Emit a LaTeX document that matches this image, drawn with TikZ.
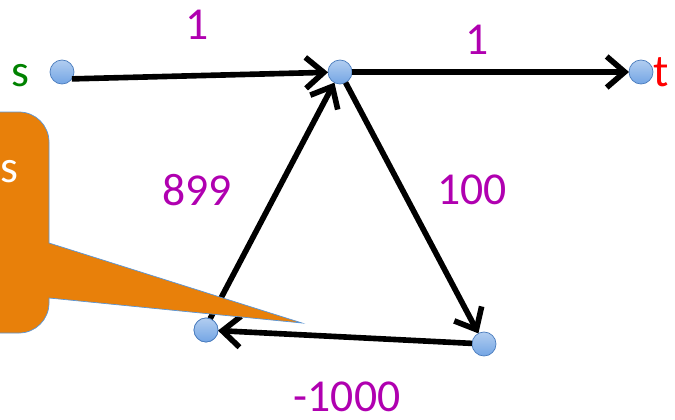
\documentclass[tikz,border=0pt]{standalone}
\usepackage{fontspec}
\setmainfont{Carlito}
\usetikzlibrary{positioning, arrows.meta}
\definecolor{WeightPurple}{RGB}{176,0,176}
\definecolor{SrcGreen}{RGB}{0,130,0}
\definecolor{DotBlue}{RGB}{115,165,228}
\definecolor{DotEdge}{RGB}{75,125,190}
\definecolor{NoteOrange}{RGB}{232,128,10}
\definecolor{NoteEdge}{RGB}{90,150,215}
\tikzset{
  vtx/.style={circle, draw=DotEdge, thin, top color=DotBlue!55!white, bottom color=DotBlue,
    minimum size=0.48cm, inner sep=0pt, outer sep=0pt},
  wlab/.style={font=\fontsize{26}{30}\selectfont, text=WeightPurple, inner sep=0pt},
  endlab/.style={font=\fontsize{26}{30}\selectfont, inner sep=0pt},
  wedge/.style={-{Straight Barb[length=3.6mm,width=6.2mm]}, line width=3.2pt, black},
}
\begin{document}
\begin{tikzpicture}
      \useasboundingbox (0,0) rectangle (13.5,-8.4);
      % vertices
      \node[vtx] (s) at (1.24,-1.44) {};
      \node[vtx] (m) at (6.80,-1.44) {};
      \node[vtx] (t) at (12.82,-1.44) {};
      \node[vtx] (r) at (9.68,-6.88) {};
      \node[vtx] (l) at (4.12,-6.60) {};
      % edges
      \draw[wedge] (s.-35) -- (m);
      \draw[wedge] (m) -- (t);
      \draw[wedge] (m) -- (r);
      \draw[wedge] (l.70) -- (m);
      \draw[wedge] (r) -- (l);
      % callout
      \draw[fill=NoteOrange, draw=NoteEdge, thin]
        (-0.4,-2.24) -- (0.38,-2.24) arc[start angle=90, end angle=0, radius=0.6]
        -- (0.98,-4.86) -- (6.04,-6.46) -- (0.98,-5.96) -- (0.98,-6.06)
        arc[start angle=0, end angle=-90, radius=0.6] -- (-0.4,-6.66) -- cycle;
      \node[endlab, text=white] (note) at (0.18,-3.44) {s};
      \node[vtx] at (l) {};
      % labels
      \node[endlab, text=SrcGreen] (slab) at (0.40,-1.52) {s};
      \node[endlab, text=red] (tlab) at (13.22,-1.44) {t};
      \node[wlab] (w1) at (3.94,-0.50) {1};
      \node[wlab] (w2) at (9.54,-0.80) {1};
      \node[wlab] (w3) at (3.94,-3.80) {899};
      \node[wlab] (w4) at (9.44,-3.80) {100};
      \node[wlab] (w5) at (6.94,-7.94) {-1000};
    \end{tikzpicture}
\end{document}
